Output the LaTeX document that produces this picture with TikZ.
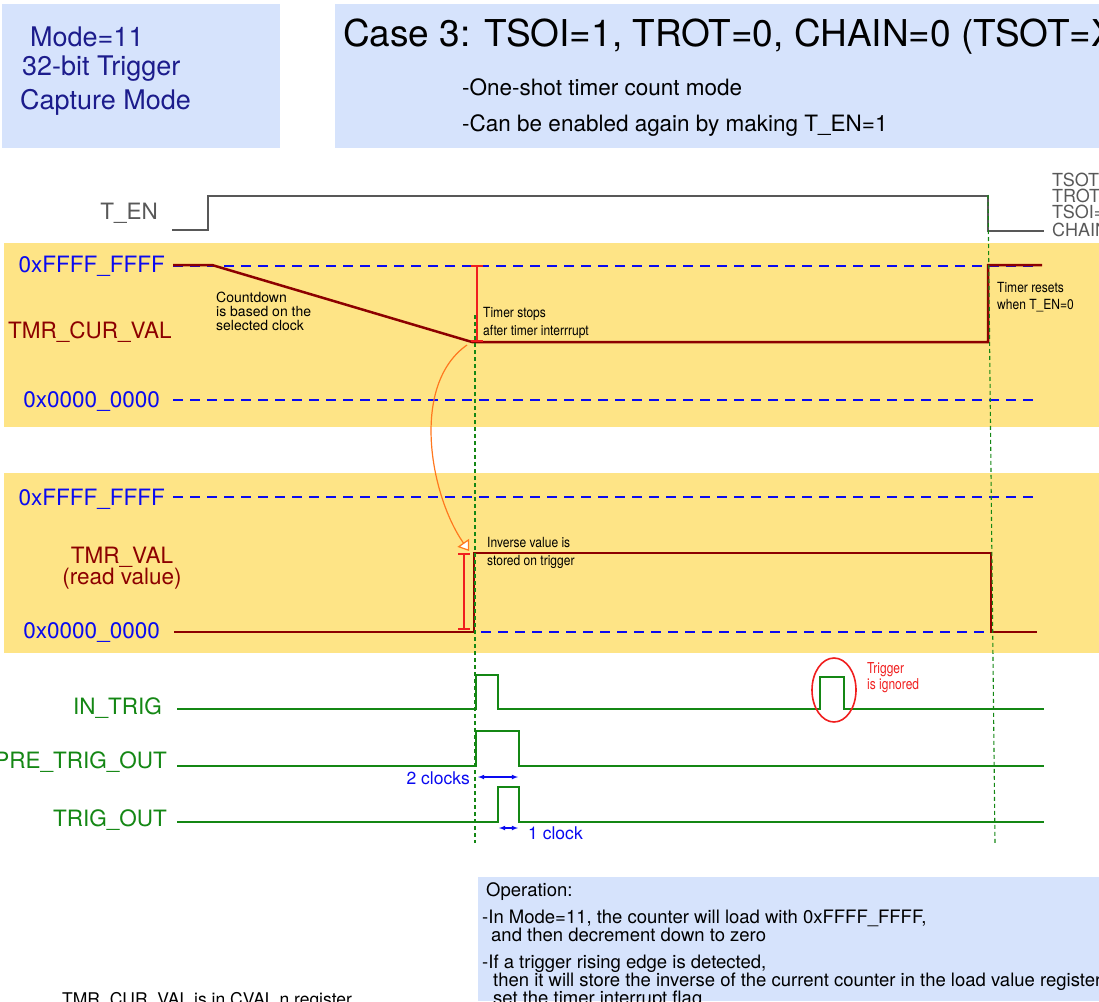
\documentclass[tikz,border=0pt]{standalone}
\usepackage{fontspec}
\setmainfont{TeX Gyre Heros}
\newfontfamily\narrowfont[FakeStretch=0.86]{TeX Gyre Heros}
\newfontfamily\tightfont[FakeStretch=0.80]{TeX Gyre Heros}
\usepackage{xcolor}
\usepackage{tikz}
\usetikzlibrary{arrows.meta}

\definecolor{boxblue}{RGB}{214,227,252}
\definecolor{bandyellow}{RGB}{254,228,134}
\definecolor{navytext}{RGB}{28,28,140}
\definecolor{wavered}{RGB}{140,0,0}
\definecolor{levelblue}{RGB}{10,10,240}
\definecolor{siggreen}{RGB}{20,135,20}
\definecolor{engray}{RGB}{88,88,88}
\definecolor{curveorange}{RGB}{255,120,30}
\definecolor{markred}{RGB}{240,30,30}

\begin{document}
\begin{tikzpicture}[>=latex, x=1pt, y=-1pt,
    sigName/.style={font=\fontsize{22.5}{24}\selectfont, inner sep=0pt, anchor=base east},
    note/.style={font=\narrowfont\fontsize{14}{18}\selectfont, inner sep=0pt, anchor=north west, align=left},
    bodyText/.style={font=\fontsize{18.5}{19}\selectfont, inner sep=0pt, anchor=base west},
    cfgText/.style={engray, font=\fontsize{18}{18}\selectfont, inner sep=0pt, anchor=base west},
    level/.style={levelblue, line width=2pt, dash pattern=on 10pt off 7pt},
    wave/.style={wavered, line width=2.5pt},
    sig/.style={siggreen, line width=2.5pt},
    marker/.style={siggreen, line width=1.1pt, dash pattern=on 4pt off 3pt},
    ibar/.style={markred, line width=1.4pt},
    clk/.style={levelblue, line width=1.1pt, <->}]
    \useasboundingbox (0,0) rectangle (1099,1001);
    \clip (0,0) rectangle (1099,1001);

    % 1. Khung nen
    \fill[boxblue] (2,4) rectangle (280,148);
    \fill[boxblue] (335,4) rectangle (1099,148);
    \fill[boxblue] (478,877) rectangle (1099,1001);
    \fill[bandyellow] (4,243) rectangle (1099,427);
    \fill[bandyellow] (4,473) rectangle (1099,653);

    % 2. Tieu de
    \node[navytext, font=\fontsize{27}{28}\selectfont, inner sep=0pt, anchor=base west] (mode) at (30,46) {Mode=11};
    \node[navytext, font=\fontsize{27}{28}\selectfont, inner sep=0pt, anchor=base west] (bits) at (22,75) {32-bit Trigger};
    \node[navytext, font=\fontsize{27}{28}\selectfont, inner sep=0pt, anchor=base west] (capt) at (20,109) {Capture Mode};
    \node[font=\fontsize{37}{38}\selectfont, inner sep=0pt, anchor=base west] (title) at (343,46)
        {Case 3: TSOI=1, TROT=0, CHAIN=0 (TSOT=X)};
    \node[font=\fontsize{22.5}{24}\selectfont, inner sep=0pt, anchor=base west] (oneshot) at (462,95) {-One-shot timer count mode};
    \node[font=\fontsize{22.5}{24}\selectfont, inner sep=0pt, anchor=base west] (again) at (462,131) {-Can be enabled again by making T\_EN=1};

    % 3. T_EN
    \node[sigName, engray] (lblTEN) at (158,219) {T\_EN};
    \draw[engray, line width=2pt] (172,230) -- (208,230) -- (208,196) -- (988,196) -- (988,231) -- (1044,231);
    \node[cfgText] (cfgA) at (1052,186) {TSOT=X};
    \node[cfgText] (cfgB) at (1052,202) {TROT=0};
    \node[cfgText] (cfgC) at (1052,218) {TSOI=1};
    \node[cfgText] (cfgD) at (1052,236) {CHAIN=0};

    % 4. TMR_CUR_VAL
    \node[sigName, levelblue] (lblMaxA) at (165,272) {0xFFFF\_FFFF};
    \node[sigName, wavered, anchor=base west] (lblCur) at (8,338) {TMR\_CUR\_VAL};
    \node[sigName, levelblue] (lblMinA) at (160,407) {0x0000\_0000};
    \draw[level] (173,266) -- (1040,266);
    \draw[level] (173,400) -- (1040,400);
    \draw[wave] (173,265) -- (212,265) -- (472,342) -- (988,342) -- (988,265) -- (1042,265);
    \draw[ibar] (477,266) -- (477,341);
    \draw[ibar] (471,266) -- (483,266);
    \draw[ibar] (471,341) -- (483,341);
    \node[note, font=\fontsize{14}{13.7}\selectfont] (cntdown) at (216,292) {Countdown\\is based on the\\selected clock};
    \node[note] (stops) at (483,307) {Timer stops\\after timer interrrupt};
    \node[note, font=\narrowfont\fontsize{14}{17}\selectfont] (resets) at (997,282) {Timer resets\\when T\_EN=0};

    % 5. TMR_VAL
    \node[sigName, levelblue] (lblMaxB) at (165,505) {0xFFFF\_FFFF};
    \node[sigName, wavered, anchor=north, align=center, font=\fontsize{22.5}{20}\selectfont] (lblVal) at (122,547) {TMR\_VAL\\(read value)};
    \node[sigName, levelblue] (lblMinB) at (160,638) {0x0000\_0000};
    \draw[level] (173,497) -- (1040,497);
    \draw[level] (175,632) -- (1040,632);
    \draw[wave] (174,632) -- (474,632) -- (474,553) -- (991,553) -- (991,632) -- (1037,632);
    \draw[ibar] (464,554) -- (464,629);
    \draw[ibar] (458,554) -- (470,554);
    \draw[ibar] (458,629) -- (470,629);
    \node[note] (inverse) at (487,537) {Inverse value is\\stored on trigger};

    % 6. Mui ten cam
    \draw[curveorange, line width=1.2pt, -{Triangle[fill=white, length=10pt, width=14pt]}]
        (467,345) .. controls (410,385) and (430,495) .. (469,551);

    % 7. Cac tin hieu trigger
    \node[sigName, siggreen] (lblInTrig) at (162,714) {IN\_TRIG};
    \node[sigName, siggreen] (lblPreTrig) at (167,768) {PRE\_TRIG\_OUT};
    \node[sigName, siggreen] (lblTrigOut) at (167,826) {TRIG\_OUT};
    \draw[sig] (177,709) -- (476,709) -- (476,675) -- (498,675) -- (498,709) -- (820,709)
        -- (820,677) -- (844,677) -- (844,709) -- (1044,709);
    \draw[sig] (177,766) -- (476,766) -- (476,731) -- (519,731) -- (519,766) -- (1044,766);
    \draw[sig] (177,822) -- (498,822) -- (498,787) -- (519,787) -- (519,822) -- (1044,822);

    % Trigger bi bo qua
    \draw[markred, line width=1.6pt] (834,690) ellipse [x radius=22pt, y radius=32pt];
    \node[note, markred, font=\tightfont\fontsize{15}{16}\selectfont] (ignored) at (867,662) {Trigger\\is ignored};

    % So clock
    \draw[clk] (478,777) -- (518,777);
    \node[levelblue, font=\fontsize{17.5}{18}\selectfont, inner sep=0pt, anchor=base east] (twoclk) at (470,784) {2 clocks};
    \draw[clk] (499,828) -- (518,828);
    \node[levelblue, font=\fontsize{17.5}{18}\selectfont, inner sep=0pt, anchor=base west] (oneclk) at (528,839) {1 clock};

    % 8. Duong moc thoi gian
    \draw[marker] (475,315) -- (475,843);
    \draw[marker] (988,195) -- (995,845);

    % 9. Ghi chu ben duoi
    \node[bodyText] (opHead) at (486,896) {Operation:};
    \node[bodyText] (opA) at (482,923) {-In Mode=11, the counter will load with 0xFFFF\_FFFF,};
    \node[bodyText] (opB) at (491,941) {and then decrement down to zero};
    \node[bodyText] (opC) at (482,968) {-If a trigger rising edge is detected,};
    \node[bodyText] (opD) at (493,986) {then it will store the inverse of the current counter in the load value register};
    \node[bodyText] (opE) at (493,1004) {set the timer interrupt flag};
    \node[bodyText, font=\fontsize{17.5}{19}\selectfont] (cvalNote) at (62,1005) {TMR\_CUR\_VAL is in CVAL n register};
\end{tikzpicture}
\end{document}
